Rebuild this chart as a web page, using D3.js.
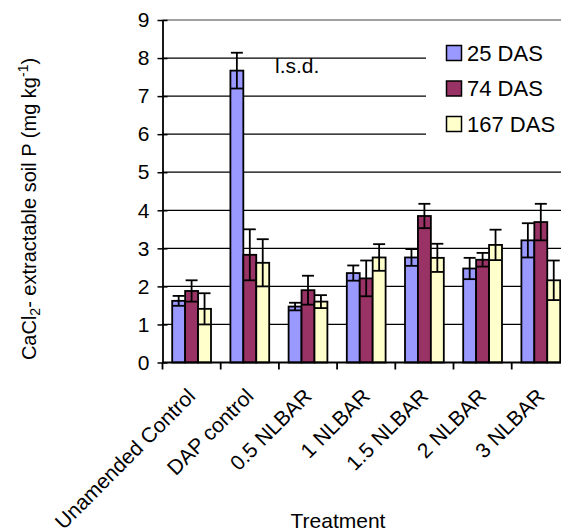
<!DOCTYPE html>
<html>
<head>
<meta charset="utf-8">
<script src="https://cdn.jsdelivr.net/npm/d3@7"></script>
<style>
  html, body { margin: 0; padding: 0; background: #fff; }
  svg { display: block; }
  text { font-family: "Liberation Sans", Arial, Helvetica, sans-serif; fill: #000; }
</style>
</head>
<body>
<svg id="chart" width="561" height="532"></svg>
<script>
// ---- data ----
const categories = ["Unamended Control", "DAP control", "0.5 NLBAR", "1 NLBAR", "1.5 NLBAR", "2 NLBAR", "3 NLBAR"];
const seriesNames = ["25 DAS", "74 DAS", "167 DAS"];
const das25 = [1.62, 7.67, 1.47, 2.35, 2.76, 2.47, 3.21];
const err25 = [0.13, 0.47, 0.10, 0.20, 0.22, 0.28, 0.45];
const das74 = [1.88, 2.83, 1.90, 2.21, 3.85, 2.70, 3.69];
const err74 = [0.28, 0.67, 0.38, 0.47, 0.32, 0.18, 0.48];
const das167 = [1.41, 2.62, 1.60, 2.76, 2.75, 3.09, 2.16];
const err167 = [0.41, 0.62, 0.17, 0.35, 0.37, 0.40, 0.52];
const yTicks = [0, 1, 2, 3, 4, 5, 6, 7, 8, 9];
const colors = ["#9999FF", "#993366", "#FFFFCC"];

const seriesValues = [das25, das74, das167];
const seriesErrors = [err25, err74, err167];

const svg = d3.select("#chart");
const W = 561, H = 532;

const x = d3.scaleBand().domain(categories).range([162.5, 162.5 + 7 * 58.2]).paddingInner(0).paddingOuter(0);
const xs = d3.scaleBand().domain(seriesNames).range([0, x.bandwidth()]).paddingInner(0).paddingOuter(0.75);
const y = d3.scaleLinear().domain([0, 9]).range([362.5, 20]);

const x0 = x.range()[0];

// gridlines
svg.append("g").selectAll("line").data(yTicks.filter(d => d > 0 && d < 9)).join("line")
  .attr("x1", x0).attr("x2", W)
  .attr("y1", d => y(d)).attr("y2", d => y(d))
  .attr("stroke", "#000").attr("stroke-width", 1.3);

// top plot border (gray)
svg.append("line").attr("x1", x0).attr("x2", W).attr("y1", y(9)).attr("y2", y(9))
  .attr("stroke", "#808080").attr("stroke-width", 1.5);

// bars
const data = [];
categories.forEach((c, i) => {
  seriesNames.forEach((s, j) => {
    data.push({ cat: c, ser: s, j: j, v: seriesValues[j][i], e: seriesErrors[j][i] });
  });
});

svg.append("g").selectAll("rect").data(data).join("rect")
  .attr("x", d => x(d.cat) + xs(d.ser))
  .attr("width", xs.bandwidth())
  .attr("y", d => y(d.v))
  .attr("height", d => y(0) - y(d.v))
  .attr("fill", d => colors[d.j])
  .attr("stroke", "#000").attr("stroke-width", 1.8);

// error bars
const eg = svg.append("g").attr("stroke", "#000").attr("stroke-width", 1.8);
const capW = 6;
data.forEach(d => {
  const cx = x(d.cat) + xs(d.ser) + xs.bandwidth() / 2;
  eg.append("line").attr("x1", cx).attr("x2", cx).attr("y1", y(d.v + d.e)).attr("y2", y(d.v - d.e));
  eg.append("line").attr("x1", cx - capW).attr("x2", cx + capW).attr("y1", y(d.v + d.e)).attr("y2", y(d.v + d.e));
  eg.append("line").attr("x1", cx - capW).attr("x2", cx + capW).attr("y1", y(d.v - d.e)).attr("y2", y(d.v - d.e));
});

// legend background (hides gridlines)
const lg = svg.append("g");
lg.append("rect").attr("x", 426).attr("y", 36).attr("width", W - 426).attr("height", 108).attr("fill", "#fff");
seriesNames.forEach((s, j) => {
  const cy = 53 + j * 35.5;
  lg.append("rect").attr("x", 446.5).attr("y", cy - 7.5).attr("width", 15).attr("height", 15)
    .attr("fill", colors[j]).attr("stroke", "#000").attr("stroke-width", 1.5);
  lg.append("text").attr("x", 467).attr("y", cy).attr("dy", "0.36em")
    .style("font-size", "22px").text(s);
});

// y axis
const yAxis = d3.axisLeft(y).tickValues(yTicks).tickSize(0).tickPadding(13);
const ya = svg.append("g").attr("transform", `translate(${x0},0)`).call(yAxis);
ya.select(".domain").attr("stroke", "#000").attr("stroke-width", 1.8);
ya.selectAll("text").style("font-size", "21px").style("font-family", '"Liberation Sans", Arial, sans-serif');
ya.selectAll(".tick").append("line").attr("x1", -5).attr("x2", 5).attr("stroke", "#000").attr("stroke-width", 1.5);

// x axis
svg.append("line").attr("x1", x0).attr("x2", W).attr("y1", y(0)).attr("y2", y(0))
  .attr("stroke", "#000").attr("stroke-width", 1.8);
const tickPos = categories.map(c => x(c)).concat([x(categories[6]) + x.bandwidth()]);
svg.append("g").selectAll("line").data(tickPos).join("line")
  .attr("x1", d => d).attr("x2", d => d).attr("y1", y(0)).attr("y2", y(0) + 7)
  .attr("stroke", "#000").attr("stroke-width", 1.8);

// x labels rotated
svg.append("g").selectAll("text").data(categories).join("text")
  .attr("transform", c => `translate(${x(c) + x.bandwidth() / 2 + 5},${y(0) + 35}) rotate(-45)`)
  .attr("text-anchor", "end")
  .style("font-size", "21px")
  .text(c => c);

// l.s.d. annotation
svg.append("text").attr("x", 275).attr("y", 72.5).style("font-size", "21px").text("l.s.d.");

// axis titles
svg.append("text").attr("x", 338).attr("y", 528).attr("text-anchor", "middle")
  .style("font-size", "21px").text("Treatment");

const yl = svg.append("text")
  .attr("transform", "translate(36,209) rotate(-90)")
  .attr("text-anchor", "middle")
  .style("font-size", "20px");
yl.append("tspan").text("CaCl");
yl.append("tspan").attr("baseline-shift", "-25%").style("font-size", "14px").text("2");
yl.append("tspan").text("- extractable soil P (mg kg");
yl.append("tspan").attr("baseline-shift", "super").style("font-size", "14px").text("-1");
yl.append("tspan").text(")");
</script>
</body>
</html>
